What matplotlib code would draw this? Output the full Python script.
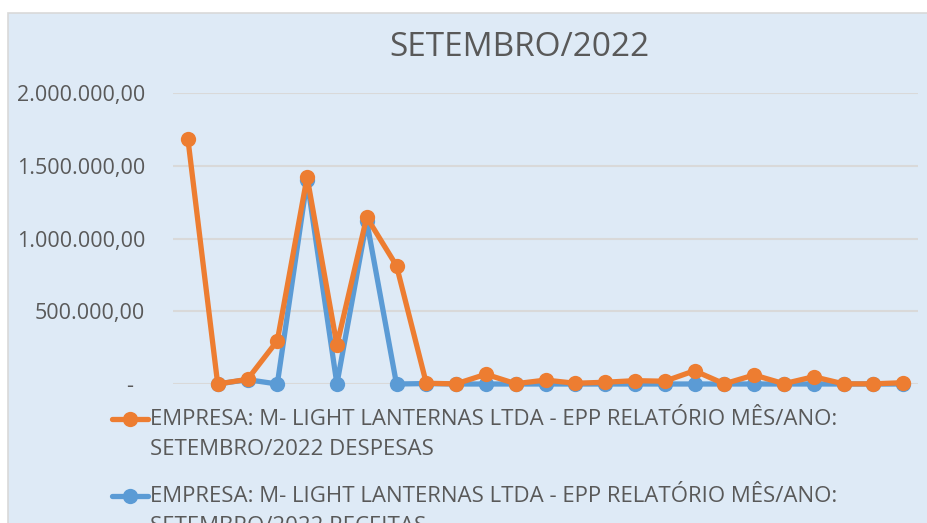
import matplotlib
matplotlib.use('Agg')
import matplotlib.pyplot as plt
import matplotlib.ticker as ticker
import matplotlib.transforms as mtransforms
from matplotlib.patches import Rectangle
import numpy as np

# data (25 points, no x labels)
dias = list(range(1, 26))
despesas = [1684000, 0, 32000, 297000, 1423000, 268000, 1146000, 813000, 5000, 1000,
            67000, 2000, 27000, 5000, 12000, 23000, 19000, 91000, 1000, 62000,
            2000, 50000, 1000, 1000, 9000]
receitas = [np.nan, 0, 30000, 0, 1400000, 0, 1120000, 0, 3000, 0,
            0, 0, 0, 0, 0, 0, 0, 0, 0, 0,
            0, 0, 0, 0, 0]
yticks = [0, 500000, 1000000, 1500000, 2000000]

label_desp = "EMPRESA: M- LIGHT LANTERNAS LTDA - EPP RELATÓRIO MÊS/ANO:\nSETEMBRO/2022 DESPESAS"
label_rec = "EMPRESA: M- LIGHT LANTERNAS LTDA - EPP RELATÓRIO MÊS/ANO:\nSETEMBRO/2022 RECEITAS"
title = "SETEMBRO/2022"

orange = '#ED7D31'
blue = '#5B9BD5'
bg = '#DEEAF6'
txt = '#595959'

plt.rcParams['font.family'] = ['Open Sans', 'DejaVu Sans']

W, H = 927, 523
fig = plt.figure(figsize=(W / 100, H / 100), dpi=100, facecolor='white')

# chart area
fig.add_artist(Rectangle((8 / W, -0.01), 1.0, (H - 13) / H + 0.01, transform=fig.transFigure,
                         facecolor=bg, edgecolor='#D9D9D9', lw=1.2, zorder=0))

ax = fig.add_axes([173 / W, (H - 384) / H, 745 / W, 291 / H])
ax.set_facecolor('none')

x = np.arange(len(dias))
style = dict(lw=3.8, marker='o', ms=11, mew=0, clip_on=False, solid_capstyle='round')
ax.plot(x, receitas, color=blue, zorder=3, label=label_rec, **style)
ax.plot(x, despesas, color=orange, zorder=4, label=label_desp, **style)

ax.set_xlim(-0.5, len(dias) - 0.5)
ax.set_ylim(0, 2000000)
ax.set_xticks([])
ax.set_yticks(yticks)


def fmt(v, pos):
    if v == 0:
        return '-  '
    s = f"{v:,.2f}"
    return s.replace(',', 'X').replace('.', ',').replace('X', '.')


ax.yaxis.set_major_formatter(ticker.FuncFormatter(fmt))
ax.tick_params(axis='y', length=0, pad=20, labelsize=15.5, labelcolor=txt)
ax.grid(axis='y', color='#D9D9D9', lw=1.5, zorder=1)
ax.set_axisbelow(True)
for s in ax.spines.values():
    s.set_visible(False)

fig.text(519 / W, (H - 48) / H, title, ha='center', va='center', fontsize=24, color=txt)

handles, labels = ax.get_legend_handles_labels()
leg = fig.legend(handles[::-1], labels[::-1], loc='upper left',
                 bbox_to_anchor=(112 / W, (H - 409) / H), frameon=False,
                 fontsize=16, labelcolor=txt, borderpad=0, borderaxespad=0,
                 handlelength=1.6, handletextpad=0.1, labelspacing=1.15)
for t in leg.get_texts():
    t.set_linespacing(1.57)
# keep the legend symbol level with the first line of each label
shift = mtransforms.ScaledTranslation(0, 0.155, fig.dpi_scale_trans)
for h in leg.legend_handles:
    h.set_transform(h.get_transform() + shift)

fig.savefig('out.png', dpi=100, facecolor='white')
